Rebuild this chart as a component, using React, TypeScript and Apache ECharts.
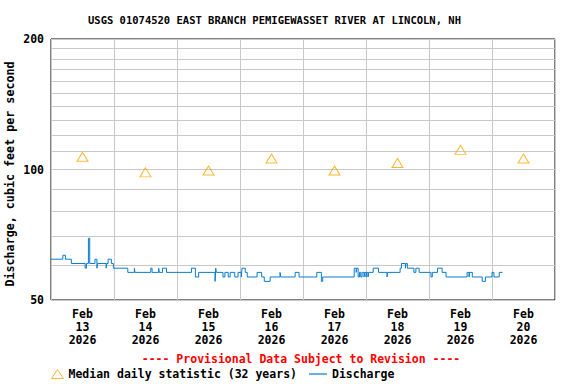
import React, { useEffect, useRef } from 'react';
import * as echarts from 'echarts';

const TITLE = 'USGS 01074520 EAST BRANCH PEMIGEWASSET RIVER AT LINCOLN, NH';
const Y_NAME = 'Discharge, cubic feet per second';
const PROVISIONAL = '---- Provisional Data Subject to Revision ----';
const MEDIAN_NAME = 'Median daily statistic (32 years)';
const DISCHARGE_NAME = 'Discharge';

const dayLabels = [
  'Feb\n13\n2026', 'Feb\n14\n2026', 'Feb\n15\n2026', 'Feb\n16\n2026',
  'Feb\n17\n2026', 'Feb\n18\n2026', 'Feb\n19\n2026', 'Feb\n20\n2026',
];
const medianDays = ['02-13 12:00', '02-14 12:00', '02-15 12:00', '02-16 12:00', '02-17 12:00', '02-18 12:00', '02-19 12:00', '02-20 12:00'];
const medianValues = [107, 98.5, 99.5, 106, 99.5, 103.5, 111, 106];

const yLabelValues = [50, 100, 200];
const yGridValues = [50, 60, 70, 80, 90, 100, 110, 120, 130, 140, 150, 160, 170, 180, 190, 200];

const dischargeTimes = [
  '02-13 00:00', '02-13 04:30', '02-13 05:30', '02-13 07:45', '02-13 13:00', '02-13 13:30', '02-13 14:15', '02-13 14:45',
  '02-13 16:45', '02-13 17:30', '02-13 17:45', '02-13 21:00', '02-13 21:15', '02-13 21:45', '02-13 23:00', '02-13 23:45',
  '02-14 05:15', '02-14 07:45', '02-14 08:00', '02-14 14:00', '02-14 14:30', '02-14 17:00', '02-14 17:15', '02-14 18:30',
  '02-14 20:00', '02-15 05:30', '02-15 07:00', '02-15 08:15', '02-15 14:30', '02-15 14:45', '02-15 15:00', '02-15 17:30',
  '02-15 18:15', '02-15 19:30', '02-15 20:15', '02-15 22:00', '02-15 23:15', '02-16 00:30', '02-16 00:45', '02-16 02:00',
  '02-16 02:45', '02-16 06:30', '02-16 08:15', '02-16 09:15', '02-16 11:30', '02-16 15:15', '02-16 15:30', '02-16 21:00',
  '02-16 22:30', '02-17 05:15', '02-17 07:00', '02-17 07:30', '02-17 19:30', '02-17 20:15', '02-17 20:30', '02-17 21:00',
  '02-17 21:30', '02-17 22:00', '02-17 22:30', '02-17 23:15', '02-17 23:30', '02-18 00:00', '02-18 00:15', '02-18 00:45',
  '02-18 01:00', '02-18 02:45', '02-18 04:45', '02-18 08:00', '02-18 08:15', '02-18 13:00', '02-18 13:30', '02-18 15:00',
  '02-18 15:15', '02-18 15:45', '02-18 18:15', '02-18 19:00', '02-18 20:15', '02-19 00:45', '02-19 01:15', '02-19 03:15',
  '02-19 05:00', '02-19 06:30', '02-19 14:30', '02-19 15:15', '02-19 15:30', '02-19 16:30', '02-19 20:15', '02-19 21:30',
  '02-20 00:00', '02-20 00:45', '02-20 02:45', '02-20 04:00',
];
const dischargeValues = [
  62.1, 63.4, 62.1, 60.7, 59.2, 60.7, 69.4, 60.7,
  62.1, 59.2, 60.7, 59.2, 60.7, 62.1, 60.7, 59.2,
  57.9, 59.2, 57.9, 59.2, 57.9, 59.2, 57.9, 59.2,
  57.9, 59.2, 56.5, 57.9, 55.2, 59.2, 57.9, 56.5,
  57.9, 56.5, 57.9, 56.5, 57.9, 56.5, 59.2, 57.9,
  56.5, 57.9, 56.5, 55.2, 56.5, 57.9, 56.5, 57.9,
  56.5, 57.9, 55.2, 56.5, 59.2, 57.9, 59.2, 56.5,
  57.9, 56.5, 57.9, 56.5, 57.9, 56.5, 57.9, 56.5,
  57.9, 59.2, 57.9, 56.5, 57.9, 59.2, 60.7, 59.2,
  60.7, 59.2, 57.9, 59.2, 57.9, 56.5, 57.9, 59.2,
  57.9, 56.5, 57.9, 56.5, 57.9, 56.5, 55.2, 56.5,
  57.9, 56.5, 57.9, 57.9,
];

const START_DAY = 13;
const N_DAYS = 8;
const MONO = '"DejaVu Sans Mono", "Liberation Mono", monospace';
const ORANGE = '#ffa500';
const BLUE = '#0a7bd0';
const GRID = '#c8c8c8';

function toHours(t: string): number {
  const [md, hm] = t.split(' ');
  const day = parseInt(md.split('-')[1], 10);
  const [h, m] = hm.split(':').map(Number);
  return (day - START_DAY) * 24 + h + m / 60;
}

export default function App() {
  const ref = useRef<HTMLDivElement>(null);
  useEffect(() => {
    if (!ref.current) return;
    const chart = echarts.init(ref.current, undefined, { renderer: 'svg' });
    const labelText = { fontFamily: MONO, fontSize: 11.5, fontWeight: 'bold' as const, color: '#000' };
    chart.setOption({
      animation: false,
      title: {
        text: TITLE,
        left: 86,
        top: 12,
        padding: 2,
        textStyle: { fontFamily: MONO, fontSize: 10.5, fontWeight: 'bold', color: '#000' },
      },
      grid: {
        left: 51, right: 21, top: 39, bottom: 84,
        outerBoundsMode: 'none',
        containLabel: false,
        show: true, borderColor: '#000', borderWidth: 1, backgroundColor: 'rgba(0,0,0,0)',
      },
      xAxis: [
        {
          type: 'value', position: 'top', min: 0, max: N_DAYS * 24, interval: 24,
          axisLine: { show: false }, axisTick: { show: false }, axisLabel: { show: false },
          splitLine: { show: true, lineStyle: { color: GRID, width: 1 } },
        },
        {
          type: 'category', position: 'bottom', data: dayLabels, boundaryGap: true,
          axisLine: { show: false }, axisTick: { show: false }, splitLine: { show: false },
          axisLabel: { ...labelText, lineHeight: 13, margin: 7, interval: 0 },
        },
      ],
      yAxis: {
        type: 'log', logBase: 10, min: 50, max: 200,
        name: Y_NAME, nameLocation: 'middle', nameGap: 35, nameMoveOverlap: false,
        nameTextStyle: { ...labelText, fontSize: 11.7, padding: [0, 9, 0, 0] },
        axisLine: { show: false },
        axisTick: { show: false, customValues: yGridValues },
        axisLabel: { ...labelText, margin: 7, customValues: yLabelValues },
        splitLine: { show: true, lineStyle: { color: GRID, width: 1 } },
      },
      legend: [
        {
          data: [{ name: MEDIAN_NAME, icon: 'triangle' }],
          left: 51, top: 368, itemWidth: 12, itemHeight: 9, itemGap: 5, padding: 0,
          textStyle: labelText,
          itemStyle: { color: 'rgba(0,0,0,0)', borderColor: ORANGE, borderWidth: 1 },
        },
        {
          data: [{ name: DISCHARGE_NAME, icon: 'rect' }],
          left: 309, top: 368, itemWidth: 18, itemHeight: 1.2, padding: 0,
          textStyle: labelText,
          itemStyle: { color: BLUE, borderWidth: 0 },
        },
      ],
      graphic: [
        {
          type: 'text', x: 301, y: 359,
          style: {
            text: PROVISIONAL, fill: '#ff0000', fontFamily: MONO, fontSize: 11.5, fontWeight: 'bold',
            align: 'center', verticalAlign: 'middle',
          },
        },
      ],
      series: [
        {
          name: DISCHARGE_NAME, type: 'line', xAxisIndex: 0, step: 'end', symbol: 'none',
          color: BLUE, lineStyle: { color: BLUE, width: 1 },
          data: dischargeTimes.map((t, i) => [toHours(t), dischargeValues[i]]),
          z: 3,
        },
        {
          name: MEDIAN_NAME, type: 'scatter', xAxisIndex: 0, symbol: 'triangle', symbolSize: [11, 9],
          itemStyle: { color: 'rgba(0,0,0,0)', borderColor: ORANGE, borderWidth: 1 },
          data: medianDays.map((t, i) => [toHours(t), medianValues[i]]),
          z: 4,
        },
      ],
    });
    return () => chart.dispose();
  }, []);
  return <div ref={ref} style={{ position: 'absolute', left: 0, top: 0, width: 576, height: 384 }} />;
}
